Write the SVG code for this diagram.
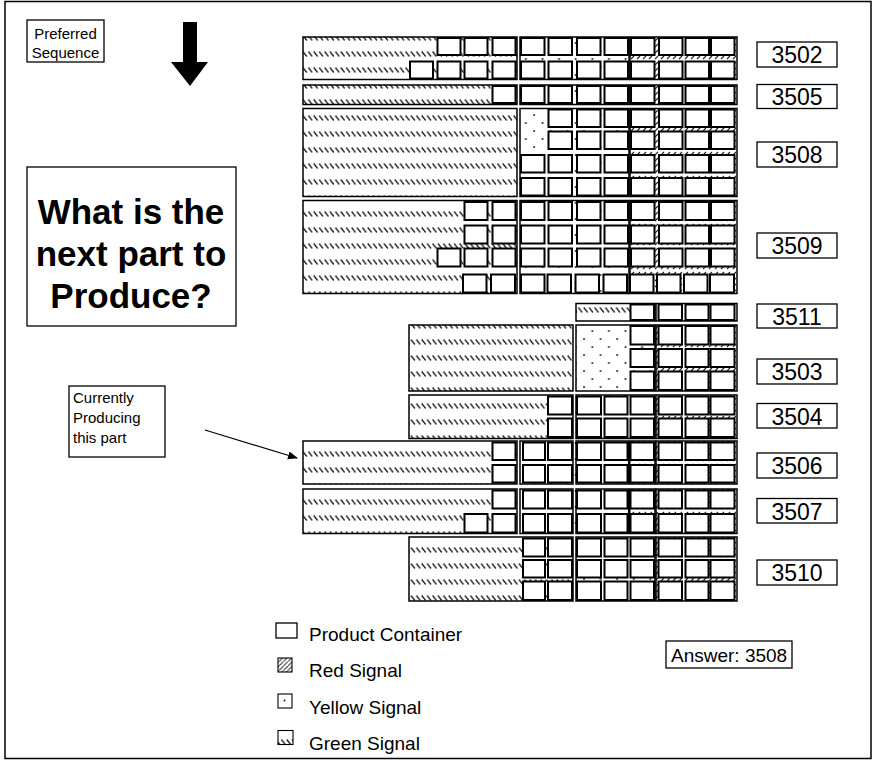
<svg xmlns="http://www.w3.org/2000/svg" width="874" height="760" viewBox="0 0 874 760">
<defs>
  <!-- signal fills -->
  <pattern id="pg" width="5.4" height="16" patternUnits="userSpaceOnUse">
    <path d="M0.6 3.5 L4.4 8.5" stroke="#222" stroke-width="1.3"/>
  </pattern>
  <pattern id="py" width="16.6" height="16" patternUnits="userSpaceOnUse">
    <circle cx="3" cy="3" r="1" fill="#222"/>
    <circle cx="11.3" cy="11" r="1" fill="#222"/>
  </pattern>
  <pattern id="pr" width="6" height="6" patternUnits="userSpaceOnUse">
    <path d="M1 5 L4 2" stroke="#222" stroke-width="1.1"/>
  </pattern>
  <pattern id="prl" width="4.5" height="4.5" patternUnits="userSpaceOnUse">
    <path d="M0 4.5 L4.5 0" stroke="#222" stroke-width="1"/>
  </pattern>
  <marker id="ah" viewBox="0 0 10 10" refX="9" refY="5" markerWidth="10" markerHeight="10" orient="auto" markerUnits="userSpaceOnUse">
    <path d="M0 1 L10 5 L0 9 Z" fill="#000"/>
  </marker>
</defs>
<style>
  .o{fill:none;stroke:#000;stroke-width:1.5}
  .b{fill:#fff;stroke:#000;stroke-width:2}
  .gn{fill:url(#pg)}
  .yl{fill:url(#py)}
  .rd{fill:url(#pr)}
  .lb{fill:#fff;stroke:#000;stroke-width:1.3}
  .lt{font-family:"Liberation Sans",Arial,sans-serif;font-size:23px;text-anchor:middle;fill:#000}
  .tx{font-family:"Liberation Sans",Arial,sans-serif;font-size:15px;fill:#000}
  .lg{font-family:"Liberation Sans",Arial,sans-serif;font-size:19px;fill:#000}
  .big{font-family:"Liberation Sans",Arial,sans-serif;font-size:35px;font-weight:bold;text-anchor:middle;fill:#000}
</style>

<rect x="5" y="1.5" width="866" height="757" fill="#fff" stroke="#000" stroke-width="1.5"/>

<!-- notes -->
<g id="note-sequence">
  <rect class="lb" x="27" y="20" width="77" height="42"/>
  <text class="tx" x="65.5" y="39" text-anchor="middle">Preferred</text>
  <text class="tx" x="65.5" y="58" text-anchor="middle">Sequence</text>
  <path d="M183 22 H197 V62 H208 L190 86 L171 62 H183 Z" fill="#000"/>
</g>
<g id="note-question">
  <rect class="lb" x="27" y="167" width="209" height="159"/>
  <text class="big" x="131" y="224">What is the</text>
  <text class="big" x="131" y="266">next part to</text>
  <text class="big" x="131" y="308">Produce?</text>
</g>
<g id="note-current">
  <rect class="lb" x="69" y="386" width="96" height="71"/>
  <text class="tx" x="73" y="403">Currently</text>
  <text class="tx" x="73" y="423">Producing</text>
  <text class="tx" x="73" y="443">this part</text>
</g>

<!-- part 3502 -->
<g id="row-3502">
  <rect class="gn" x="303" y="37" width="214" height="42.5"/>
  <rect class="yl" x="520" y="37" width="109" height="42.5"/>
  <rect class="rd" x="630" y="37" width="107" height="42.5"/>
  <rect class="o" x="303" y="37" width="214" height="42.5"/>
  <rect class="o" x="520" y="37" width="109" height="42.5"/>
  <rect class="o" x="630" y="37" width="107" height="42.5"/>
  <rect class="b" x="437.5" y="38" width="23" height="17"/>
  <rect class="b" x="464.5" y="38" width="23" height="17"/>
  <rect class="b" x="492.5" y="38" width="23" height="17"/>
  <rect class="b" x="521" y="38" width="23.5" height="17"/>
  <rect class="b" x="548.5" y="38" width="23.5" height="17"/>
  <rect class="b" x="577" y="38" width="23.5" height="17"/>
  <rect class="b" x="604.5" y="38" width="23.5" height="17"/>
  <rect class="b" x="631" y="38" width="23.5" height="17"/>
  <rect class="b" x="659" y="38" width="23.5" height="17"/>
  <rect class="b" x="685.5" y="38" width="23.5" height="17"/>
  <rect class="b" x="711" y="38" width="23.5" height="17"/>
  <rect class="b" x="410" y="61.5" width="23" height="17"/>
  <rect class="b" x="437.5" y="61.5" width="23" height="17"/>
  <rect class="b" x="464.5" y="61.5" width="23" height="17"/>
  <rect class="b" x="492.5" y="61.5" width="23" height="17"/>
  <rect class="b" x="521" y="61.5" width="23.5" height="17"/>
  <rect class="b" x="548.5" y="61.5" width="23.5" height="17"/>
  <rect class="b" x="577" y="61.5" width="23.5" height="17"/>
  <rect class="b" x="604.5" y="61.5" width="23.5" height="17"/>
  <rect class="b" x="631" y="61.5" width="23.5" height="17"/>
  <rect class="b" x="659" y="61.5" width="23.5" height="17"/>
  <rect class="b" x="685.5" y="61.5" width="23.5" height="17"/>
  <rect class="b" x="711" y="61.5" width="23.5" height="17"/>
  <rect class="lb" x="757" y="42" width="80" height="25"/>
  <text class="lt" x="797" y="63">3502</text>
</g>

<!-- part 3505 -->
<g id="row-3505">
  <rect class="gn" x="303" y="85" width="214" height="19.5"/>
  <rect class="yl" x="520" y="85" width="109" height="19.5"/>
  <rect class="rd" x="630" y="85" width="107" height="19.5"/>
  <rect class="o" x="303" y="85" width="214" height="19.5"/>
  <rect class="o" x="520" y="85" width="109" height="19.5"/>
  <rect class="o" x="630" y="85" width="107" height="19.5"/>
  <rect class="b" x="492.5" y="86" width="23" height="17"/>
  <rect class="b" x="521" y="86" width="23.5" height="17"/>
  <rect class="b" x="548.5" y="86" width="23.5" height="17"/>
  <rect class="b" x="577" y="86" width="23.5" height="17"/>
  <rect class="b" x="604.5" y="86" width="23.5" height="17"/>
  <rect class="b" x="631" y="86" width="23.5" height="17"/>
  <rect class="b" x="659" y="86" width="23.5" height="17"/>
  <rect class="b" x="685.5" y="86" width="23.5" height="17"/>
  <rect class="b" x="711" y="86" width="23.5" height="17"/>
  <rect class="lb" x="757" y="84.5" width="80" height="24"/>
  <text class="lt" x="797" y="104.5">3505</text>
</g>

<!-- part 3508 -->
<g id="row-3508">
  <rect class="gn" x="303" y="108.5" width="214" height="88"/>
  <rect class="yl" x="520" y="108.5" width="109" height="88"/>
  <rect class="rd" x="630" y="108.5" width="107" height="88"/>
  <rect class="o" x="303" y="108.5" width="214" height="88"/>
  <rect class="o" x="520" y="108.5" width="109" height="88"/>
  <rect class="o" x="630" y="108.5" width="107" height="88"/>
  <rect class="b" x="548.5" y="109.5" width="23.5" height="17.5"/>
  <rect class="b" x="577" y="109.5" width="23.5" height="17.5"/>
  <rect class="b" x="604.5" y="109.5" width="23.5" height="17.5"/>
  <rect class="b" x="631" y="109.5" width="23.5" height="17.5"/>
  <rect class="b" x="659" y="109.5" width="23.5" height="17.5"/>
  <rect class="b" x="685.5" y="109.5" width="23.5" height="17.5"/>
  <rect class="b" x="711" y="109.5" width="23.5" height="17.5"/>
  <rect class="b" x="548.5" y="131.5" width="23.5" height="17.5"/>
  <rect class="b" x="577" y="131.5" width="23.5" height="17.5"/>
  <rect class="b" x="604.5" y="131.5" width="23.5" height="17.5"/>
  <rect class="b" x="631" y="131.5" width="23.5" height="17.5"/>
  <rect class="b" x="659" y="131.5" width="23.5" height="17.5"/>
  <rect class="b" x="685.5" y="131.5" width="23.5" height="17.5"/>
  <rect class="b" x="711" y="131.5" width="23.5" height="17.5"/>
  <rect class="b" x="521" y="155" width="23.5" height="17.5"/>
  <rect class="b" x="548.5" y="155" width="23.5" height="17.5"/>
  <rect class="b" x="577" y="155" width="23.5" height="17.5"/>
  <rect class="b" x="604.5" y="155" width="23.5" height="17.5"/>
  <rect class="b" x="631" y="155" width="23.5" height="17.5"/>
  <rect class="b" x="659" y="155" width="23.5" height="17.5"/>
  <rect class="b" x="685.5" y="155" width="23.5" height="17.5"/>
  <rect class="b" x="711" y="155" width="23.5" height="17.5"/>
  <rect class="b" x="521" y="178" width="23.5" height="17.5"/>
  <rect class="b" x="548.5" y="178" width="23.5" height="17.5"/>
  <rect class="b" x="577" y="178" width="23.5" height="17.5"/>
  <rect class="b" x="604.5" y="178" width="23.5" height="17.5"/>
  <rect class="b" x="631" y="178" width="23.5" height="17.5"/>
  <rect class="b" x="659" y="178" width="23.5" height="17.5"/>
  <rect class="b" x="685.5" y="178" width="23.5" height="17.5"/>
  <rect class="b" x="711" y="178" width="23.5" height="17.5"/>
  <rect class="lb" x="757" y="142" width="80" height="25"/>
  <text class="lt" x="797" y="163">3508</text>
</g>

<!-- part 3509 -->
<g id="row-3509">
  <rect class="gn" x="303" y="200.5" width="214" height="93"/>
  <rect class="yl" x="520" y="200.5" width="109" height="93"/>
  <rect class="rd" x="630" y="200.5" width="107" height="93"/>
  <rect class="o" x="303" y="200.5" width="214" height="93"/>
  <rect class="o" x="520" y="200.5" width="109" height="93"/>
  <rect class="o" x="630" y="200.5" width="107" height="93"/>
  <rect class="b" x="464.5" y="202" width="23" height="18"/>
  <rect class="b" x="492.5" y="202" width="23" height="18"/>
  <rect class="b" x="521" y="202" width="23.5" height="18"/>
  <rect class="b" x="548.5" y="202" width="23.5" height="18"/>
  <rect class="b" x="577" y="202" width="23.5" height="18"/>
  <rect class="b" x="604.5" y="202" width="23.5" height="18"/>
  <rect class="b" x="631" y="202" width="23.5" height="18"/>
  <rect class="b" x="659" y="202" width="23.5" height="18"/>
  <rect class="b" x="685.5" y="202" width="23.5" height="18"/>
  <rect class="b" x="711" y="202" width="23.5" height="18"/>
  <rect class="b" x="464.5" y="225.5" width="23" height="18"/>
  <rect class="b" x="492.5" y="225.5" width="23" height="18"/>
  <rect class="b" x="521" y="225.5" width="23.5" height="18"/>
  <rect class="b" x="548.5" y="225.5" width="23.5" height="18"/>
  <rect class="b" x="577" y="225.5" width="23.5" height="18"/>
  <rect class="b" x="604.5" y="225.5" width="23.5" height="18"/>
  <rect class="b" x="631" y="225.5" width="23.5" height="18"/>
  <rect class="b" x="659" y="225.5" width="23.5" height="18"/>
  <rect class="b" x="685.5" y="225.5" width="23.5" height="18"/>
  <rect class="b" x="711" y="225.5" width="23.5" height="18"/>
  <rect class="b" x="437.5" y="248.5" width="23" height="18"/>
  <rect class="b" x="464.5" y="248.5" width="23" height="18"/>
  <rect class="b" x="492.5" y="248.5" width="23" height="18"/>
  <rect class="b" x="521" y="248.5" width="23.5" height="18"/>
  <rect class="b" x="548.5" y="248.5" width="23.5" height="18"/>
  <rect class="b" x="577" y="248.5" width="23.5" height="18"/>
  <rect class="b" x="604.5" y="248.5" width="23.5" height="18"/>
  <rect class="b" x="631" y="248.5" width="23.5" height="18"/>
  <rect class="b" x="659" y="248.5" width="23.5" height="18"/>
  <rect class="b" x="685.5" y="248.5" width="23.5" height="18"/>
  <rect class="b" x="711" y="248.5" width="23.5" height="18"/>
  <rect class="b" x="463" y="274.5" width="23.5" height="18"/>
  <rect class="b" x="491" y="274.5" width="24" height="18"/>
  <rect class="b" x="521" y="274.5" width="23.5" height="18"/>
  <rect class="b" x="547.5" y="274.5" width="23.5" height="18"/>
  <rect class="b" x="575.5" y="274.5" width="23.5" height="18"/>
  <rect class="b" x="603.5" y="274.5" width="23.5" height="18"/>
  <rect class="b" x="630" y="274.5" width="23.5" height="18"/>
  <rect class="b" x="657" y="274.5" width="23.5" height="18"/>
  <rect class="b" x="684" y="274.5" width="23.5" height="18"/>
  <rect class="b" x="710" y="274.5" width="24" height="18"/>
  <rect class="lb" x="757" y="233" width="80" height="25"/>
  <text class="lt" x="797" y="254">3509</text>
</g>

<!-- part 3511 -->
<g id="row-3511">
  <rect class="gn" x="576" y="303.5" width="55" height="17.5"/>
  <rect class="o" x="576" y="303.5" width="79" height="17.5"/>
  <rect class="o" x="656" y="303.5" width="81" height="17.5"/>
  <rect class="b" x="630.5" y="304.5" width="23.5" height="15.5"/>
  <rect class="b" x="658.5" y="304.5" width="23.5" height="15.5"/>
  <rect class="b" x="685.5" y="304.5" width="23" height="15.5"/>
  <rect class="b" x="710.5" y="304.5" width="24" height="15.5"/>
  <rect class="lb" x="757" y="304" width="80" height="24"/>
  <text class="lt" x="797" y="324.5">3511</text>
</g>

<!-- part 3503 -->
<g id="row-3503">
  <rect class="gn" x="409" y="325" width="164" height="66"/>
  <rect class="yl" x="576" y="325" width="79" height="66"/>
  <rect class="rd" x="656" y="325" width="81" height="66"/>
  <rect class="o" x="409" y="325" width="164" height="66"/>
  <rect class="o" x="576" y="325" width="79" height="66"/>
  <rect class="o" x="656" y="325" width="81" height="66"/>
  <rect class="b" x="630.5" y="326" width="23.5" height="18.5"/>
  <rect class="b" x="658.5" y="326" width="23.5" height="18.5"/>
  <rect class="b" x="685.5" y="326" width="23" height="18.5"/>
  <rect class="b" x="710.5" y="326" width="24" height="18.5"/>
  <rect class="b" x="630.5" y="349" width="23.5" height="18"/>
  <rect class="b" x="658.5" y="349" width="23.5" height="18"/>
  <rect class="b" x="685.5" y="349" width="23" height="18"/>
  <rect class="b" x="710.5" y="349" width="24" height="18"/>
  <rect class="b" x="630.5" y="371.5" width="23.5" height="18.5"/>
  <rect class="b" x="658.5" y="371.5" width="23.5" height="18.5"/>
  <rect class="b" x="685.5" y="371.5" width="23" height="18.5"/>
  <rect class="b" x="710.5" y="371.5" width="24" height="18.5"/>
  <rect class="lb" x="757" y="359" width="80" height="25"/>
  <text class="lt" x="797" y="380">3503</text>
</g>

<!-- part 3504 -->
<g id="row-3504">
  <rect class="gn" x="409" y="395" width="164" height="43.5"/>
  <rect class="yl" x="576" y="395" width="79" height="43.5"/>
  <rect class="rd" x="656" y="395" width="81" height="43.5"/>
  <rect class="o" x="409" y="395" width="164" height="43.5"/>
  <rect class="o" x="576" y="395" width="79" height="43.5"/>
  <rect class="o" x="656" y="395" width="81" height="43.5"/>
  <rect class="b" x="548" y="396.5" width="24" height="18"/>
  <rect class="b" x="577" y="396.5" width="24" height="18"/>
  <rect class="b" x="604.5" y="396.5" width="23" height="18"/>
  <rect class="b" x="630.5" y="396.5" width="23.5" height="18"/>
  <rect class="b" x="658.5" y="396.5" width="23.5" height="18"/>
  <rect class="b" x="685.5" y="396.5" width="23" height="18"/>
  <rect class="b" x="710.5" y="396.5" width="24" height="18"/>
  <rect class="b" x="548" y="418.5" width="24" height="18.5"/>
  <rect class="b" x="577" y="418.5" width="24" height="18.5"/>
  <rect class="b" x="604.5" y="418.5" width="23" height="18.5"/>
  <rect class="b" x="630.5" y="418.5" width="23.5" height="18.5"/>
  <rect class="b" x="658.5" y="418.5" width="23.5" height="18.5"/>
  <rect class="b" x="685.5" y="418.5" width="23" height="18.5"/>
  <rect class="b" x="710.5" y="418.5" width="24" height="18.5"/>
  <rect class="lb" x="757" y="403.5" width="80" height="24.5"/>
  <text class="lt" x="797" y="424.5">3504</text>
</g>

<!-- part 3506 -->
<g id="row-3506">
  <rect class="gn" x="303" y="441" width="214" height="43"/>
  <rect class="yl" x="520" y="441" width="110" height="43"/>
  <rect class="rd" x="630" y="441" width="107" height="43"/>
  <rect class="o" x="303" y="441" width="214" height="43"/>
  <rect class="o" x="520" y="441" width="53" height="43"/>
  <rect class="o" x="576" y="441" width="79" height="43"/>
  <rect class="o" x="656" y="441" width="81" height="43"/>
  <rect class="b" x="492.5" y="442.5" width="23" height="17.5"/>
  <rect class="b" x="523" y="442.5" width="22" height="17.5"/>
  <rect class="b" x="548" y="442.5" width="24" height="17.5"/>
  <rect class="b" x="577" y="442.5" width="24" height="17.5"/>
  <rect class="b" x="604.5" y="442.5" width="23" height="17.5"/>
  <rect class="b" x="630.5" y="442.5" width="23.5" height="17.5"/>
  <rect class="b" x="658.5" y="442.5" width="23.5" height="17.5"/>
  <rect class="b" x="685.5" y="442.5" width="23" height="17.5"/>
  <rect class="b" x="710.5" y="442.5" width="24" height="17.5"/>
  <rect class="b" x="492.5" y="465" width="23" height="17.5"/>
  <rect class="b" x="523" y="465" width="22" height="17.5"/>
  <rect class="b" x="548" y="465" width="24" height="17.5"/>
  <rect class="b" x="577" y="465" width="24" height="17.5"/>
  <rect class="b" x="604.5" y="465" width="23" height="17.5"/>
  <rect class="b" x="630.5" y="465" width="23.5" height="17.5"/>
  <rect class="b" x="658.5" y="465" width="23.5" height="17.5"/>
  <rect class="b" x="685.5" y="465" width="23" height="17.5"/>
  <rect class="b" x="710.5" y="465" width="24" height="17.5"/>
  <path d="M629.2 441 V484" stroke="#000" stroke-width="2.5"/>
  <rect class="lb" x="757" y="453" width="80" height="25"/>
  <text class="lt" x="797" y="474">3506</text>
</g>

<!-- part 3507 -->
<g id="row-3507">
  <rect class="gn" x="303" y="489" width="214" height="44.5"/>
  <rect class="yl" x="520" y="489" width="110" height="44.5"/>
  <rect class="rd" x="630" y="489" width="107" height="44.5"/>
  <rect class="o" x="303" y="489" width="214" height="44.5"/>
  <rect class="o" x="520" y="489" width="53" height="44.5"/>
  <rect class="o" x="576" y="489" width="79" height="44.5"/>
  <rect class="o" x="656" y="489" width="81" height="44.5"/>
  <rect class="b" x="492.5" y="490.5" width="23" height="18"/>
  <rect class="b" x="523" y="490.5" width="22" height="18"/>
  <rect class="b" x="548" y="490.5" width="24" height="18"/>
  <rect class="b" x="577" y="490.5" width="24" height="18"/>
  <rect class="b" x="604.5" y="490.5" width="23" height="18"/>
  <rect class="b" x="630.5" y="490.5" width="23.5" height="18"/>
  <rect class="b" x="658.5" y="490.5" width="23.5" height="18"/>
  <rect class="b" x="685.5" y="490.5" width="23" height="18"/>
  <rect class="b" x="710.5" y="490.5" width="24" height="18"/>
  <rect class="b" x="464.5" y="514" width="23" height="18.5"/>
  <rect class="b" x="492.5" y="514" width="23" height="18.5"/>
  <rect class="b" x="523" y="514" width="22" height="18.5"/>
  <rect class="b" x="548" y="514" width="24" height="18.5"/>
  <rect class="b" x="577" y="514" width="24" height="18.5"/>
  <rect class="b" x="604.5" y="514" width="23" height="18.5"/>
  <rect class="b" x="630.5" y="514" width="23.5" height="18.5"/>
  <rect class="b" x="658.5" y="514" width="23.5" height="18.5"/>
  <rect class="b" x="685.5" y="514" width="23" height="18.5"/>
  <rect class="b" x="710.5" y="514" width="24" height="18.5"/>
  <path d="M629.2 489 V533.5" stroke="#000" stroke-width="2.5"/>
  <rect class="lb" x="757" y="498.5" width="80" height="24.5"/>
  <text class="lt" x="797" y="519.5">3507</text>
</g>

<!-- part 3510 -->
<g id="row-3510">
  <rect class="gn" x="409" y="537" width="164" height="64"/>
  <rect class="yl" x="576" y="537" width="79" height="64"/>
  <rect class="rd" x="656" y="537" width="81" height="64"/>
  <rect class="o" x="409" y="537" width="164" height="64"/>
  <rect class="o" x="576" y="537" width="79" height="64"/>
  <rect class="o" x="656" y="537" width="81" height="64"/>
  <rect class="b" x="523" y="538.5" width="22" height="18"/>
  <rect class="b" x="548" y="538.5" width="24" height="18"/>
  <rect class="b" x="577" y="538.5" width="24" height="18"/>
  <rect class="b" x="604.5" y="538.5" width="23" height="18"/>
  <rect class="b" x="630.5" y="538.5" width="23.5" height="18"/>
  <rect class="b" x="658.5" y="538.5" width="23.5" height="18"/>
  <rect class="b" x="685.5" y="538.5" width="23" height="18"/>
  <rect class="b" x="710.5" y="538.5" width="24" height="18"/>
  <rect class="b" x="523" y="560" width="22" height="17.5"/>
  <rect class="b" x="548" y="560" width="24" height="17.5"/>
  <rect class="b" x="577" y="560" width="24" height="17.5"/>
  <rect class="b" x="604.5" y="560" width="23" height="17.5"/>
  <rect class="b" x="630.5" y="560" width="23.5" height="17.5"/>
  <rect class="b" x="658.5" y="560" width="23.5" height="17.5"/>
  <rect class="b" x="685.5" y="560" width="23" height="17.5"/>
  <rect class="b" x="710.5" y="560" width="24" height="17.5"/>
  <rect class="b" x="523" y="581.5" width="22" height="18.5"/>
  <rect class="b" x="548" y="581.5" width="24" height="18.5"/>
  <rect class="b" x="577" y="581.5" width="24" height="18.5"/>
  <rect class="b" x="604.5" y="581.5" width="23" height="18.5"/>
  <rect class="b" x="630.5" y="581.5" width="23.5" height="18.5"/>
  <rect class="b" x="658.5" y="581.5" width="23.5" height="18.5"/>
  <rect class="b" x="685.5" y="581.5" width="23" height="18.5"/>
  <rect class="b" x="710.5" y="581.5" width="24" height="18.5"/>
  <rect class="lb" x="757" y="560" width="80" height="25"/>
  <text class="lt" x="797" y="581">3510</text>
</g>

<!-- legend -->
<g id="legend">
  <rect x="276" y="623" width="21" height="15" fill="#fff" stroke="#000" stroke-width="1.3"/>
  <text class="lg" x="309" y="641">Product Container</text>
  <rect x="278" y="658" width="14" height="14" fill="url(#prl)" stroke="#000" stroke-width="1.1"/>
  <text class="lg" x="309" y="677">Red Signal</text>
  <rect x="278" y="694" width="14" height="14" fill="#fff" stroke="#000" stroke-width="1.1"/>
  <circle cx="284.5" cy="700.5" r="1" fill="#222"/>
  <text class="lg" x="309" y="713.5">Yellow Signal</text>
  <rect x="278" y="730.5" width="15" height="14" fill="url(#pg)" stroke="#000" stroke-width="1.1"/>
  <text class="lg" x="309" y="750">Green Signal</text>
</g>

<g id="answer">
  <rect class="lb" x="666" y="641" width="126" height="27"/>
  <text class="lg" x="671" y="661.5">Answer: 3508</text>
</g>

<!-- connectors -->
<g id="connectors">
  <line x1="205" y1="430" x2="297" y2="458" stroke="#000" stroke-width="1.2" marker-end="url(#ah)"/>
</g>
</svg>
